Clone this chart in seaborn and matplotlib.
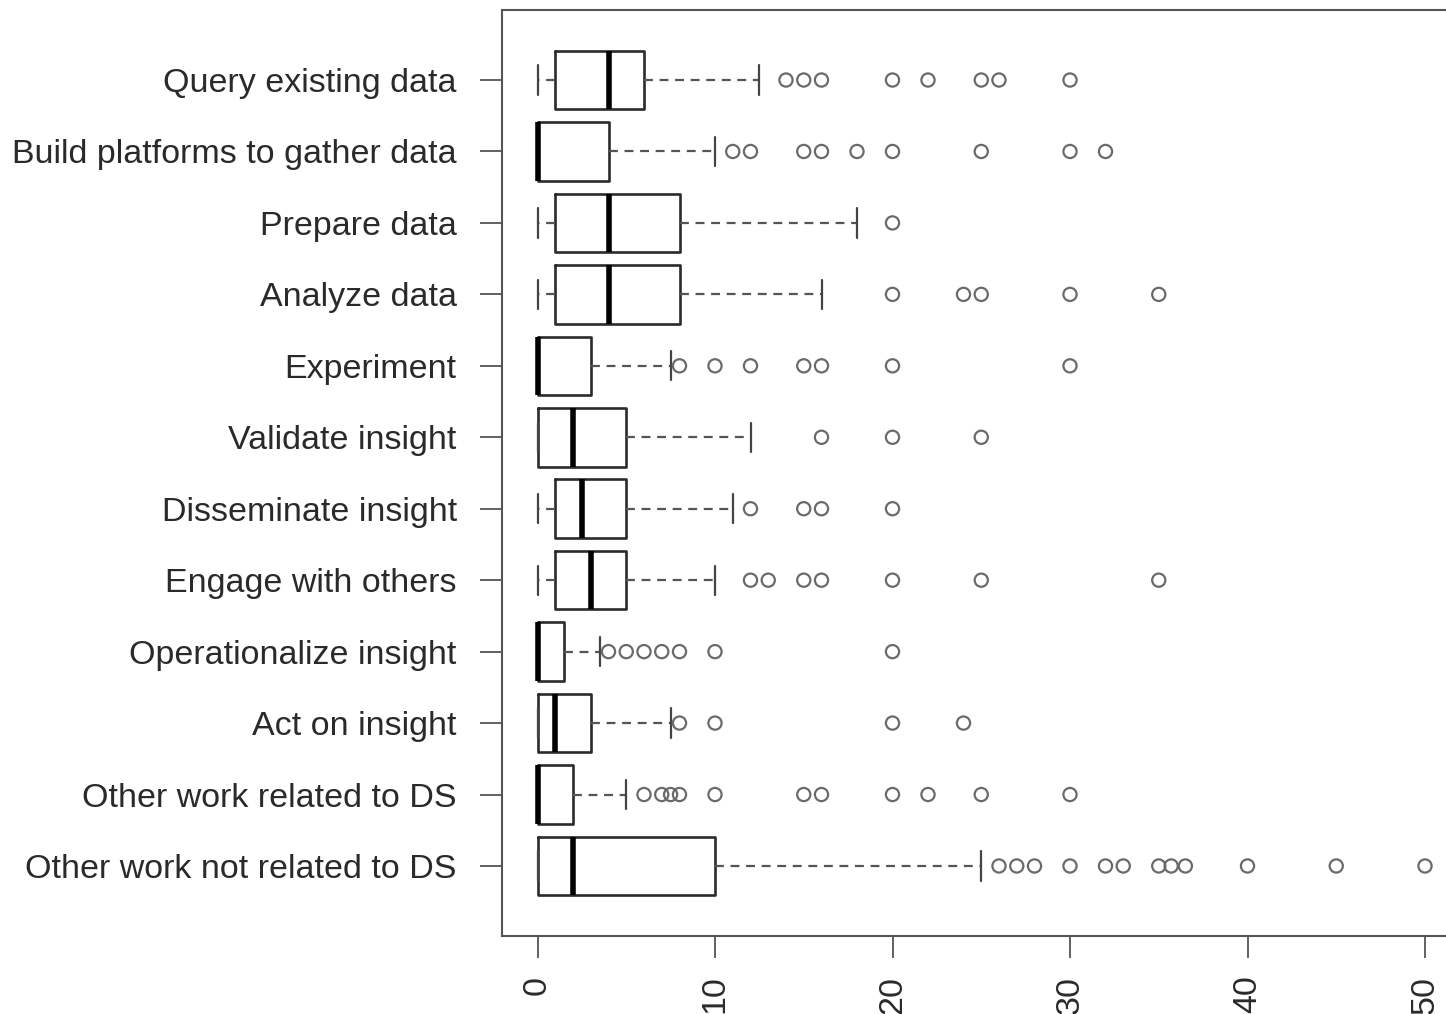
import matplotlib
matplotlib.use("Agg")
import matplotlib.pyplot as plt
import pandas as pd
import seaborn as sns

tasks = [
    "Query existing data",
    "Build platforms to gather data",
    "Prepare data",
    "Analyze data",
    "Experiment",
    "Validate insight",
    "Disseminate insight",
    "Engage with others",
    "Operationalize insight",
    "Act on insight",
    "Other work related to DS",
    "Other work not related to DS",
]

# five-number summary (percent of time)
whisker_low = [0, 0, 0, 0, 0, 0, 0, 0, 0, 0, 0, 0]
first_quartile = [1, 0, 1, 1, 0, 0, 1, 1, 0, 0, 0, 0]
medians = [4, 0, 4, 4, 0, 2, 2.5, 3, 0, 1, 0, 2]
third_quartile = [6, 4, 8, 8, 3, 5, 5, 5, 1.5, 3, 2, 10]
whisker_high = [12.5, 10, 18, 16, 7.5, 12, 11, 10, 3.5, 7.5, 5, 25]

# outlying points, one list per task
outliers = [
    [14, 15, 16, 20, 22, 25, 26, 30],
    [11, 12, 15, 16, 18, 20, 25, 30, 32],
    [20],
    [20, 24, 25, 30, 35],
    [8, 10, 12, 15, 16, 20, 30],
    [16, 20, 25],
    [12, 15, 16, 20],
    [12, 13, 15, 16, 20, 25, 35],
    [4, 5, 6, 7, 8, 10, 20],
    [8, 10, 20, 24],
    [6, 7, 7.5, 8, 10, 15, 16, 20, 22, 25, 30],
    [26, 27, 28, 30, 32, 33, 35, 35.7, 36.5, 40, 45, 50],
]

x_ticks = [0, 10, 20, 30, 40, 50]

box_rows = []
for i, task in enumerate(tasks):
    for v in (whisker_low[i], first_quartile[i], medians[i],
              third_quartile[i], whisker_high[i]):
        box_rows.append((task, v))
box_df = pd.DataFrame(box_rows, columns=["task", "pct"])

out_rows = [(t, v) for t, vals in zip(tasks, outliers) for v in vals]
out_df = pd.DataFrame(out_rows, columns=["task", "pct"])

sns.set_style("ticks")
plt.rcParams["font.family"] = ["Liberation Sans", "DejaVu Sans"]

fig = plt.figure(figsize=(14.46, 10.14), dpi=100)
ax = fig.add_axes([502 / 1446, 78 / 1014, 958.5 / 1446, 926 / 1014])

sns.boxplot(data=box_df, x="pct", y="task", order=tasks, orient="h",
            whis=(0, 100), width=0.82, fill=False, color="#2b2b2b",
            linewidth=1.9, showfliers=False,
            medianprops=dict(color="black", linewidth=4),
            whiskerprops=dict(color="#555555", linewidth=1.6,
                              linestyle=(0, (4, 3))),
            capprops=dict(color="#444444", linewidth=1.6),
            ax=ax)

sns.stripplot(data=out_df, x="pct", y="task", order=tasks, orient="h",
              jitter=False, marker="o", size=9.5, facecolors="none",
              edgecolor="#6a6a6a", linewidth=1.6, ax=ax)

ax.set_xlim(-2, 52)
ax.set_ylim(11.98, -0.98)
ax.set_xticks(x_ticks)
ax.set_xticklabels([str(t) for t in x_ticks], rotation=90)
ax.set_xlabel("")
ax.set_ylabel("")
ax.tick_params(axis="both", direction="out", length=15.5, width=1.3,
               color="#555555", labelsize=24.5, labelcolor="#2a2a2a")
ax.tick_params(axis="y", pad=17)
ax.tick_params(axis="x", pad=13)
for spine in ax.spines.values():
    spine.set_visible(True)
    spine.set_color("#555555")
    spine.set_linewidth(1.5)

fig.savefig("out.png", dpi=100)
